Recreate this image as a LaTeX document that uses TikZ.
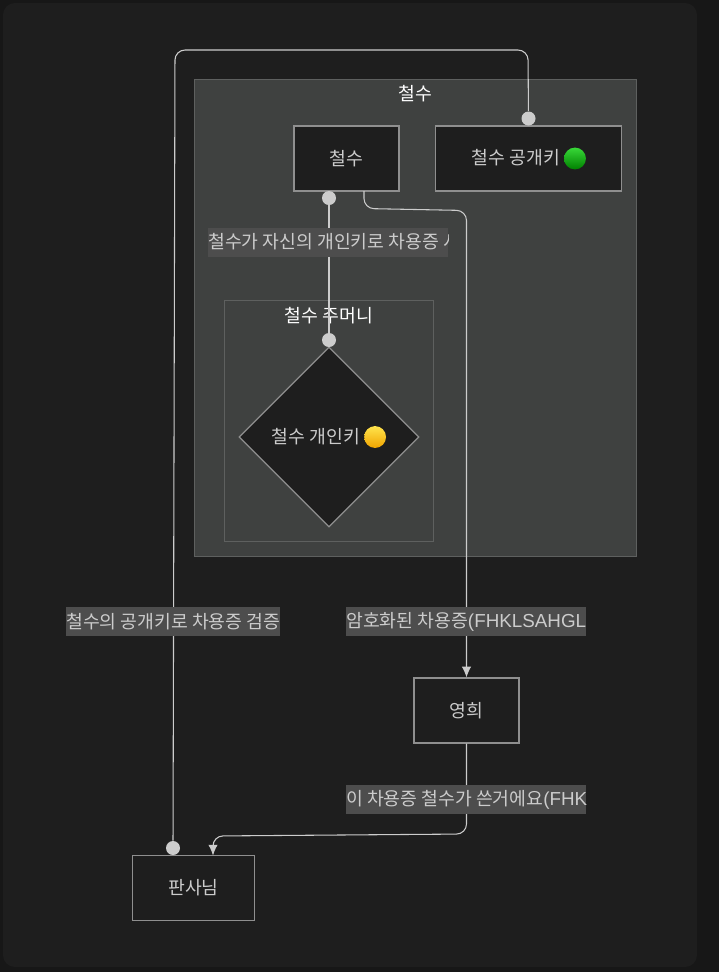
\documentclass[tikz,border=0pt]{standalone}
\usepackage{fontspec}
\setmainfont{Noto Sans CJK KR}
\newfontfamily\latinfont[Scale=1.03]{Liberation Sans}
\usetikzlibrary{arrows.meta,positioning,shapes.geometric}
\definecolor{pagedark}{HTML}{171717}
\definecolor{panel}{HTML}{1E1E1E}
\definecolor{groupfill}{HTML}{3F4140}
\definecolor{groupline}{HTML}{5E605F}
\definecolor{nodeline}{HTML}{8F8F8F}
\definecolor{linkgray}{HTML}{CCCCCC}
\definecolor{labelfill}{HTML}{4D4D4D}
\definecolor{greentop}{HTML}{38D838}
\definecolor{greenmid}{HTML}{08B808}
\definecolor{greenlow}{HTML}{008000}
\definecolor{yellowtop}{HTML}{FFE44D}
\definecolor{yellowmid}{HTML}{FFD000}
\definecolor{yellowlow}{HTML}{F0A400}
\newcommand{\emojidot}[3]{\tikz[baseline=-0.62ex]\shade[top color=#1, middle color=#2, bottom color=#3] (0,0) circle (8.2pt);}
\tikzset{
  block/.style={rectangle, draw=nodeline, line width=0.9pt, fill=panel, text=linkgray, minimum height=48.75pt, inner sep=0pt},
  group/.style={rectangle, draw=groupline, line width=0.9pt, fill=groupfill, inner sep=0pt, anchor=north west},
  grouptitle/.style={text=white, inner sep=0pt},
  link/.style={color=linkgray, line width=0.8pt, rounded corners=7.5pt},
  endpoint/.style={circle, fill=linkgray, minimum size=10.5pt, inner sep=0pt},
  linklabel/.style={rectangle, fill=labelfill, text=linkgray, minimum height=21.75pt, inner sep=0pt, path picture={
      \node[anchor=west, inner sep=0pt, text=linkgray] at (path picture bounding box.west) {#1};}},
  tip/.style={-{Latex[length=8pt, width=7pt]}},
}

\begin{document}
\begin{tikzpicture}[x=0.75pt, y=-0.75pt, font=\fontsize{13.7pt}{16pt}\selectfont]
\useasboundingbox (0,0) rectangle (719,972);
\fill[pagedark] (0,0) rectangle (719,972);
\fill[panel, rounded corners=9pt] (3,3) rectangle (697,967);

% Subgraphs
\node[group, minimum width=331.9pt, minimum height=357.4pt] (chulsugroup) at (193.5,79) {};
\node[grouptitle] (chulsutitle) at (415,93.5) {철수};
\node[group, minimum width=156.75pt, minimum height=180.75pt] (pocketgroup) at (224,300) {};
\node[grouptitle] (pockettitle) at (329,315.5) {철수 주머니};

% Nodes
\node[block, minimum width=78.75pt] (chulsu) at (346.5,158.5) {철수};
\node[block, minimum width=139.5pt, right=26.75pt of chulsu] (pubkey) {철수 공개키 \emojidot{greentop}{greenmid}{greenlow}};
\node[diamond, aspect=1, draw=nodeline, line width=0.9pt, fill=panel, text=linkgray, minimum width=135pt, minimum height=135pt, inner sep=0pt] (privkey) at (329,437) {철수 개인키 \emojidot{yellowtop}{yellowmid}{yellowlow}};
\node[block, minimum width=78.75pt] (yeonghui) at (466.5,710.5) {영희};
\node[block, minimum width=91.5pt] (judge) at (193.5,888) {판사님};

% Endpoints
\node[endpoint] (dotchulsu) at (329,198) {};
\node[endpoint] (dotprivkey) at (329,340) {};
\node[endpoint] (dotpubkey) at (528.5,118.5) {};
\node[endpoint] (dotjudge) at (173,848) {};

% Arrows
\coordinate (sendstart) at (364,191);
\coordinate (sendtop) at (364,208.5);
\coordinate (sendright) at (466.5,210.5);
\coordinate (verifyright) at (528,50);
\coordinate (verifyleft) at (175,50);
\coordinate (replyright) at (466.5,834);
\coordinate (replyleft) at (213,836);
\coordinate (replyend) at (213,855.5);
\draw[link] (dotchulsu) -- (dotprivkey);
\draw[link, tip] (sendstart) -- (sendtop) -- (sendright) -- (yeonghui.north);
\draw[link] (dotpubkey) -- (verifyright) -- (verifyleft) -- (dotjudge);
\draw[link, tip] (yeonghui.south) -- (replyright) -- (replyleft) -- (replyend);

% Labels
\node[linklabel={철수가 자신의 개인키로 차용증 서명}, minimum width=180pt] (signlabel) at (328,242) {};
\node[linklabel={철수의 공개키로 차용증 검증}, minimum width=160.5pt] (verifylabel) at (173,621.5) {};
\node[linklabel={암호화된 차용증{\latinfont(FHKLSAHGLKSHGA)}}, minimum width=180pt] (sendlabel) at (466,621.5) {};
\node[linklabel={이 차용증 철수가 쓴거에요{\latinfont(FHKLSAHGLKSHGA)}}, minimum width=180pt] (replylabel) at (466,799.5) {};

\end{tikzpicture}
\end{document}
